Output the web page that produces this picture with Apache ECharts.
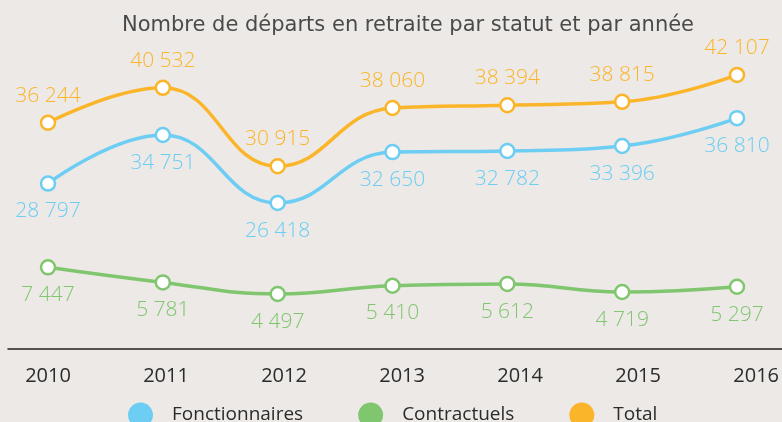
<!DOCTYPE html>
<html>
<head>
<meta charset="utf-8">
<script src="https://cdn.jsdelivr.net/npm/echarts@6/dist/echarts.min.js"></script>
<style>
html,body{margin:0;padding:0;background:#ece9e6;}
#main{width:782px;height:422px;}
</style>
</head>
<body>
<div id="main"></div>
<script>
const years = ['2010','2011','2012','2013','2014','2015','2016'];
const fonctionnaires = [28797, 34751, 26418, 32650, 32782, 33396, 36810];
const contractuels = [7447, 5781, 4497, 5410, 5612, 4719, 5297];
const total = [36244, 40532, 30915, 38060, 38394, 38815, 42107];
const titleText = 'Nombre de départs en retraite par statut et par année';

const cBlue = '#6dcdf3', cGreen = '#80c66f', cOrange = '#fbb52a';
const fmt = v => String(v).replace(/\B(?=(\d{3})+(?!\d))/g, ' ');
const labelFont = {fontFamily: 'Open Sans', fontSize: 21, fontWeight: 300};

function mk(name, data, color, yIdx, pos, dist) {
  return {
    name, type: 'line', data, xAxisIndex: 0, yAxisIndex: yIdx,
    smooth: 0.45, symbol: 'circle', symbolSize: 14,
    lineStyle: {color, width: 3.5},
    itemStyle: {color: '#ffffff', borderColor: color, borderWidth: 2.5},
    label: Object.assign({show: true, position: pos, distance: dist, color,
      formatter: p => fmt(p.value)}, labelFont),
    emphasis: {disabled: true}
  };
}

const chart = echarts.init(document.getElementById('main'));
chart.setOption({
  backgroundColor: '#ece9e6',
  animation: false,
  title: {text: titleText, left: 117, top: 10,
    textStyle: {fontFamily: 'DejaVu Sans', fontSize: 21, fontWeight: 'normal', color: '#4a4a4a'}},
  legend: {
    bottom: -10.5, left: 123, itemWidth: 23, itemHeight: 23, icon: 'circle', itemGap: 55,
    data: [{name: 'Fonctionnaires', itemStyle: {color: cBlue}},
           {name: 'Contractuels', itemStyle: {color: cGreen}},
           {name: 'Total', itemStyle: {color: cOrange}}],
    textStyle: {fontFamily: 'Open Sans', fontSize: 19, color: '#2b2b2b', padding: [0, 0, 0, 15]}
  },
  grid: [
    {left: 48, right: 45, top: 0, bottom: 3.5},
    {left: 48, right: 24, top: 0, bottom: 73},
    {left: 8, right: 0, top: 0, bottom: 73}
  ],
  xAxis: [
    {gridIndex: 0, type: 'category', data: years, boundaryGap: false, show: false},
    {gridIndex: 1, type: 'category', data: years, boundaryGap: false,
      axisLine: {show: false}, axisTick: {show: false},
      axisLabel: {margin: 17, color: '#2b2b2b', fontFamily: 'Open Sans', fontSize: 20}},
    {gridIndex: 2, type: 'category', data: [''], boundaryGap: false,
      axisLine: {show: true, lineStyle: {color: '#222', width: 1.5}},
      axisTick: {show: false}, axisLabel: {show: false}}
  ],
  yAxis: [
    {gridIndex: 0, type: 'value', min: 0, max: 51293, show: false},
    {gridIndex: 0, type: 'value', min: -9266, max: 37003, show: false},
    {gridIndex: 1, type: 'value', show: false},
    {gridIndex: 2, type: 'value', show: false}
  ],
  series: [
    mk('Fonctionnaires', fonctionnaires, cBlue, 0, 'bottom', 9),
    mk('Contractuels', contractuels, cGreen, 1, 'bottom', 9),
    mk('Total', total, cOrange, 0, 'top', 8)
  ]
});
</script>
</body>
</html>
